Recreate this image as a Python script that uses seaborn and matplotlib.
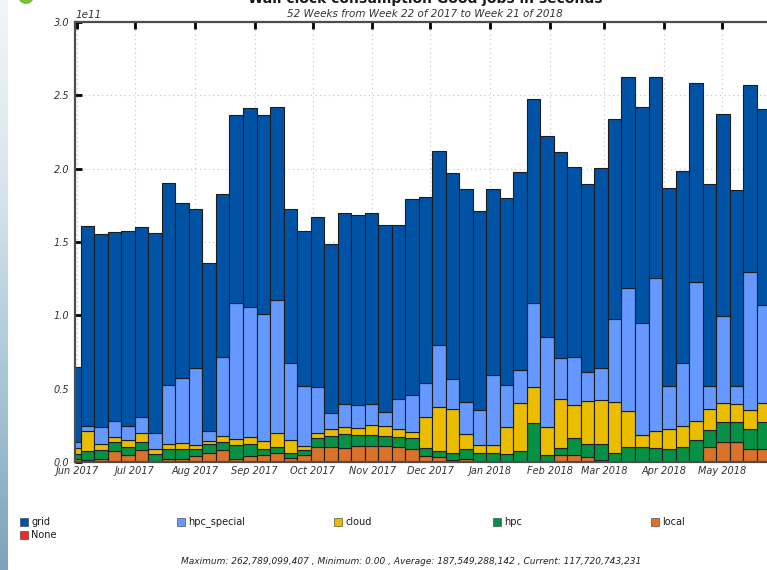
import numpy as np
import pandas as pd
import matplotlib
matplotlib.use("Agg")
import matplotlib.pyplot as plt
import matplotlib.dates as mdates
from matplotlib.patches import Rectangle, Circle
from matplotlib.transforms import IdentityTransform
import seaborn as sns

# Weekly wall-clock consumption of good jobs, in units of 1e9 seconds
week_start = pd.date_range("2017-05-27", periods=52, freq="7D")

grid = [51.0, 136.3, 131.9, 128.8, 132.9, 129.9, 136.4, 137.7, 119.4, 108.4,
        114.6, 111.1, 127.8, 135.7, 135.9, 131.8, 105.4, 105.7, 116.3, 115.0,
        130.0, 129.1, 130.0, 127.3, 118.9, 133.8, 127.3, 132.2, 140.4, 145.2,
        135.6, 126.8, 127.3, 134.8, 138.7, 137.5, 140.9, 129.3, 128.2, 136.3,
        136.1, 143.989, 147.3, 137.5, 134.6, 130.9, 135.7, 137.3, 137.8, 133.2,
        127.5, 133.5]
hpc_special = [4.0, 3.5, 11.3, 11.4, 9.8, 10.7, 10.9, 40.0, 44.0, 52.5,
               7.0, 53.7, 93.1, 89.1, 86.4, 91.0, 52.3, 40.9, 30.9, 11.3,
               15.4, 15.7, 14.3, 9.8, 20.4, 25.0, 22.7, 42.1, 20.5, 21.8,
               24.1, 47.9, 28.9, 22.3, 57.7, 60.9, 27.5, 32.7, 20.0, 21.6,
               56.4, 83.8, 76.6, 104.1, 29.7, 42.5, 94.5, 16.1, 59.5, 12.7,
               93.8, 67.0]
cloud = [4.0, 13.8, 4.1, 2.9, 4.5, 5.9, 3.6, 3.4, 3.9, 2.3,
         1.8, 3.8, 3.9, 4.5, 5.4, 9.0, 9.1, 2.9, 3.4, 4.3,
         5.0, 5.0, 6.8, 6.8, 5.0, 4.6, 21.1, 30.2, 29.5, 9.8,
         5.5, 5.5, 18.4, 32.7, 24.5, 19.6, 33.4, 22.5, 29.6, 30.0,
         34.7, 25.0, 7.9, 11.8, 13.7, 14.3, 13.0, 14.1, 12.7, 12.0,
         13.0, 12.7]
hpc = [3.5, 6.1, 6.4, 6.4, 5.7, 5.7, 4.8, 7.1, 7.3, 5.0,
       6.4, 5.7, 9.3, 8.2, 4.3, 4.6, 3.4, 3.7, 6.6, 8.0,
       9.6, 7.5, 7.5, 6.8, 6.8, 7.2, 5.5, 4.3, 5.0, 7.1,
       5.4, 5.5, 4.9, 7.4, 26.4, 4.3, 5.0, 11.8, 8.8, 10.9,
       6.1, 9.8, 10.3, 9.0, 8.3, 10.2, 14.7, 11.8, 13.7, 13.7,
       13.9, 18.7]
local = [2.0, 1.4, 1.8, 7.5, 4.8, 8.2, 0.7, 1.8, 1.8, 4.1,
         5.9, 8.2, 2.3, 4.1, 4.8, 5.9, 2.5, 4.5, 10.0, 10.0,
         9.5, 10.9, 10.9, 10.9, 10.5, 8.9, 4.3, 3.2, 1.4, 2.0,
         0.5, 0.4, 0.3, 0.3, 0.0, 0.2, 4.8, 4.8, 3.2, 1.4,
         0.3, 0.2, 0.2, 0.3, 0.3, 0.3, 0.3, 10.0, 13.6, 13.6,
         8.6, 8.6]
none = [0.0] * 52

categories = ["grid", "hpc_special", "cloud", "hpc", "local", "None"]
colors = {"grid": "#0052a5", "hpc_special": "#6699ff", "cloud": "#ebbd00",
          "hpc": "#079146", "local": "#db722c", "None": "#ee2a24"}

series = {"grid": grid, "hpc_special": hpc_special, "cloud": cloud,
          "hpc": hpc, "local": local, "None": none}

centers = mdates.date2num(week_start) + 3.5
edges = list(mdates.date2num(pd.date_range("2017-05-27", periods=53, freq="7D")))

df = pd.concat(
    [pd.DataFrame({"week": centers, "seconds": np.asarray(v) * 1e9, "type": k})
     for k, v in series.items()],
    ignore_index=True,
)

W, H = 767, 570
fig = plt.figure(figsize=(W / 100, H / 100), dpi=100)
fig.patch.set_facecolor("white")

ax = fig.add_axes([75 / W, 1 - 462 / H, 700 / W, 440 / H])
ax.set_axisbelow(True)
ax.grid(True, linestyle=(0, (1, 3)), color="#c4c4c4", linewidth=0.8)

# Stacked weekly bars: the last hue level sits at the bottom of each stack
sns.histplot(data=df, x="week", weights="seconds", hue="type",
             hue_order=categories, palette=colors, multiple="stack",
             bins=edges, alpha=1, edgecolor="#1c1c1c", linewidth=0.8,
             legend=False, ax=ax)

ax.set_xlim(mdates.date2num(pd.Timestamp("2017-05-31")),
            mdates.date2num(pd.Timestamp("2017-05-31")) + 700 / 1.931)
ax.set_ylim(0, 3.0e11)
ax.set_yticks(np.arange(0, 3.01e11, 0.5e11))
ax.xaxis.set_major_locator(mdates.MonthLocator())
ax.xaxis.set_major_formatter(mdates.DateFormatter("%b %Y"))
ax.set_xlabel("")
ax.set_ylabel("")

for side, sp in ax.spines.items():
    sp.set_color("#4d4d4d")
    sp.set_linewidth(1.6)

ax.tick_params(axis="both", direction="in", length=5, width=2, color="black",
               labelsize=7, labelcolor="#333333")
ax.tick_params(axis="x", top=True, bottom=True, pad=3)
ax.tick_params(axis="y", left=True, right=True, pad=4)
for lab in ax.get_xticklabels() + ax.get_yticklabels():
    lab.set_fontstyle("italic")
off = ax.yaxis.get_offset_text()
off.set_fontstyle("italic")
off.set_fontsize(7.5)
off.set_color("#333333")

# Titles
fig.text(425 / W, 1 - 3 / H, "Wall clock consumption Good jobs in seconds",
         ha="center", va="baseline", fontsize=10, fontweight="bold",
         color="#1a1a1a")
fig.text(425 / W, 1 - 14 / H, "52 Weeks from Week 22 of 2017 to Week 21 of 2018",
         ha="center", va="center", fontsize=7.5, fontstyle="italic",
         color="#333333")

# Legend below the plot
sq = 8
legend_pos = {"grid": (20, 522), "hpc_special": (177, 522), "cloud": (334, 522),
              "hpc": (493, 522), "local": (651, 522), "None": (20, 535)}
for name in categories:
    px, py = legend_pos[name]
    fig.add_artist(Rectangle((px / W, 1 - (py + sq / 2) / H), sq / W, sq / H,
                             transform=fig.transFigure, facecolor=colors[name],
                             edgecolor="#333333", linewidth=0.4))
    fig.text((px + sq + 3) / W, 1 - py / H, name, ha="left", va="center",
             fontsize=7, color="#1a1a1a")

fig.text(411 / W, 1 - 562 / H,
         "Maximum: 262,789,099,407 , Minimum: 0.00 , Average: 187,549,288,142 , "
         "Current: 117,720,743,231",
         ha="center", va="center", fontsize=6.5, fontstyle="italic",
         color="#222222")

# Page decoration: logo sliver and side strip
fig.add_artist(Circle((26, H + 4), 8, transform=IdentityTransform(),
                      facecolor="#7cbf3f", edgecolor="none"))
strip = fig.add_axes([0, 0, 8 / W, 1])
grad = np.linspace(0, 1, 256)[:, None]
cmap = matplotlib.colors.LinearSegmentedColormap.from_list(
    "strip", ["#f2f6f8", "#d6e5ec", "#a9c6d6", "#7fa3bb"])
strip.imshow(grad, aspect="auto", cmap=cmap, extent=[0, 1, 0, 1], origin="upper")
strip.set_axis_off()

fig.savefig("out.png", dpi=100)
